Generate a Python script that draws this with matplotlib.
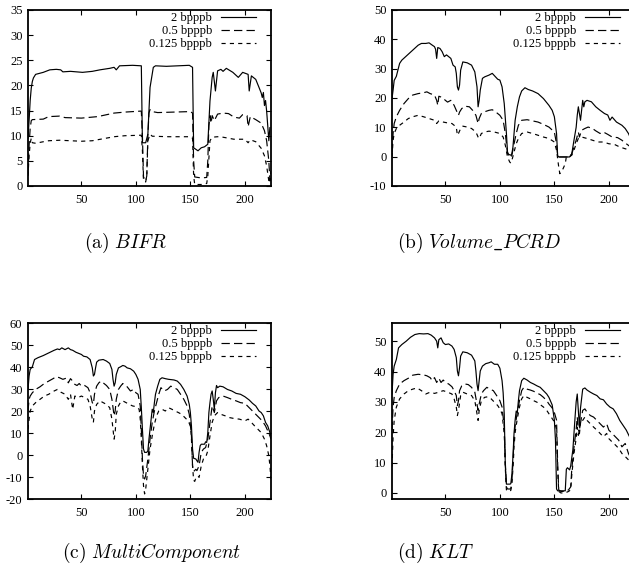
import numpy as np
import matplotlib
matplotlib.use("Agg")
import matplotlib.pyplot as plt

# ---------------- data: (band, value) ----------------#

# (a) BIFR
bifr_2 = [(1,9.5),(2,13),(3,17),(4,19.5),(5,20.8),(6,21.5),(8,22.2),(15,22.6),(21,23.1),(27,23.2),
          (31,23.1),(33,22.7),(40,22.8),(51,22.6),(60,22.8),(67,23.1),(76,23.4),(80,23.6),(82,23.1),
          (85,23.9),(97,24.0),(105,23.9),(106,8.6),(109,8.6),(111,10.3),(113,19.6),(116,23.6),(118,23.9),
          (128,23.8),(149,24.0),(152,23.6),(153,7.6),(157,7.0),(160,7.6),(163,7.8),(166,8.3),(168,16.9),
          (170,21.6),(171,22.6),(173,18.9),(175,22.9),(178,23.2),(180,22.8),(183,23.4),(189,22.6),
          (194,21.6),(198,22.6),(203,22.2),(204,18.9),(206,21.9),(210,21.2),(213,19.6),(215,18.5),
          (216,17.6),(217,18.6),(218,16),(219,17),(220,14.9),(221,12),(222,9),(223,11.6)]
bifr_05 = [(1,2.3),(2,8),(3,11.5),(4,13),(5,13.2),(15,13.3),(20,13.8),(30,13.9),(35,13.6),(50,13.5),
           (65,13.8),(80,14.5),(90,14.7),(105,14.9),(106,10),(107,1.8),(109,1.0),(110,2),(111,10),
           (112,14.5),(113,15.2),(115,14.8),(120,14.6),(150,14.8),(152,14.5),(153,5),(154,1.8),(160,1.6),
           (165,1.7),(166,5),(167,12),(168,14),(169,12.5),(170,14.0),(172,13),(175,14.3),(180,14.5),
           (185,14.4),(190,13.7),(195,13.5),(198,14.2),(202,14.0),(203,11.8),(205,13.8),(210,13.2),
           (215,12.5),(218,11),(220,9),(222,5),(223,1),(224,3)]
bifr_0125 = [(1,2),(2,6),(3,8.5),(4,9.5),(5,8.6),(8,8.5),(15,8.8),(20,9.0),(30,9.1),(50,8.9),(60,9.0),
             (70,9.4),(80,9.8),(90,10.0),(105,10.1),(106,7),(107,1),(109,0.8),(110,2),(111,9),(113,10.3),
             (115,9.9),(130,9.8),(150,9.8),(152,9.5),(153,2),(154,0.3),(160,0.3),(165,0.5),(166,2),
             (168,9),(170,9.7),(175,9.8),(180,9.7),(190,9.3),(200,9.3),(203,8.6),(205,9.2),(210,8.8),
             (215,7.5),(218,6),(220,4),(222,1),(223,0.2)]

# (b) Volume_PCRD
pcrd_2 = [(1,19.8),(2,22.7),(3,26),(5,27.4),(6,28.9),(8,31.8),(10,32.9),(15,34.6),(20,36.3),(25,38),
          (28,38.6),(32,38.6),(35,38.8),(38,38.0),(40,37.5),(41,36.6),(42,33.5),(43,37.2),(45,36.9),
          (47,35.8),(49,34.1),(51,34.7),(55,33.5),(57,31.2),(59,30.6),(60,28.4),(61,23.8),(62,22.7),
          (63,24.4),(64,29.5),(66,32.3),(70,32),(74,31.2),(77,28.9),(79,23.8),(80,17),(81,19.2),(82,22.7),
          (84,26.7),(86,27.2),(90,27.8),(93,28.4),(96,27.2),(98,26.4),(100,26.1),(102,23.8),(104,18.1),
          (106,7.9),(107,1.6),(108,0.8),(110,0.5),(111,1.0),(112,3.3),(114,12.4),(116,17),(118,20.4),
          (120,22.4),(123,23.5),(126,22.9),(130,22.4),(135,21.5),(140,19.8),(145,17.5),(148,15.8),
          (150,13.6),(152,7.9),(153,0.4),(154,-0.1),(158,-0.1),(164,-0.1),(166,1),(168,5.6),(170,10),
          (171,14.1),(172,17),(173,14.7),(174,12.4),(175,15.8),(176,19.2),(177,17),(178,18.7),(180,19.2),
          (184,18.7),(188,17),(192,15.8),(196,14.7),(199,14.2),(201,12.4),(203,13.5),(207,11.8),
          (212,10.7),(215,9.6),(218,7.9),(220,6.2),(221,8.4),(223,5.5),(224,6)]
pcrd_05 = [(1,1.6),(2,7.9),(3,11.3),(5,13.6),(8,15.8),(12,18.1),(16,19.8),(20,21),(25,21.5),(30,21.8),
           (33,22.1),(36,21.5),(40,21),(42,19.2),(43,17.5),(44,20.6),(47,20.2),(50,19.2),(52,18.6),
           (55,19.2),(58,17.5),(60,15.8),(62,14.1),(63,15.2),(65,16.4),(68,17.2),(72,17),(75,15.8),
           (78,14.1),(80,11.3),(81,13),(83,14.7),(86,15.3),(90,15.8),(93,16),(96,15.3),(100,14.1),
           (103,12.4),(105,7.9),(107,1),(109,0),(110,-0.3),(111,0.5),(113,4.4),(115,7.9),(117,10.7),
           (120,12.4),(125,12.6),(130,12.2),(135,11.8),(140,11),(145,10.1),(150,8.4),(152,4.4),(153,0.4),
           (154,-0.1),(164,-0.1),(166,1),(168,3.3),(170,5.6),(172,8.4),(173,6.7),(175,9),(178,9.6),
           (181,10.1),(185,9.6),(188,8.8),(192,7.9),(195,8.4),(199,7.6),(203,6.7),(208,6.5),(212,5.6),
           (216,4.4),(220,3.3),(222,5),(224,4)]
pcrd_0125 = [(1,0),(2,5.6),(3,7.9),(5,9.6),(8,10.7),(12,11.8),(16,13),(20,13.6),(25,14.1),(30,13.6),
             (35,13),(40,12.4),(42,11.3),(44,12.2),(48,11.8),(52,11.5),(56,11.3),(60,10.1),(61,7.3),
             (62,7.9),(64,9.6),(66,10.4),(70,10.1),(74,9.6),(78,8.4),(80,6.7),(81,6.2),(83,7.9),(86,8.4),
             (90,8.7),(95,8.4),(100,7.9),(103,6.7),(105,3.9),(107,-0.1),(109,-1.8),(110,-2.2),(111,-1.3),
             (113,1.6),(115,4.4),(117,6.2),(120,7.9),(125,8.4),(130,7.9),(135,7.3),(140,6.7),(145,6.2),
             (150,5),(152,2.2),(154,-3.5),(155,-5.8),(156,-5.2),(158,-4.1),(160,-2.4),(161,0),(164,0),
             (166,0.5),(168,2.2),(170,4.4),(172,6.2),(175,6.7),(180,6.2),(185,5.6),(190,5),(195,5),
             (200,4.4),(205,4.2),(210,3.3),(215,2.7),(220,2.2),(222,2.4),(224,2)]

# (c) MultiComponent
mc_2 = [(1,29.8),(2,35.9),(3,38.9),(5,40.1),(7,43.4),(10,44.2),(15,45.2),(20,46.4),(25,47.6),(28,48.2),
        (30,47.9),(32,48.7),(35,47.9),(38,48.7),(40,47.9),(42,47.6),(45,46.7),(48,46.1),(50,45.7),
        (52,44.9),(55,44.6),(58,43.4),(60,39.6),(61,35.9),(62,36.6),(63,39.6),(64,42.2),(66,43.1),
        (70,43.4),(73,42.7),(76,41.6),(78,38.9),(79,34.4),(80,31.3),(81,32.8),(82,36.6),(84,39.6),
        (86,40.1),(88,40.7),(90,40.4),(92,39.6),(95,39.2),(98,38.1),(100,36.6),(102,34.4),(104,29.8),
        (105,21.5),(106,11.7),(107,2.7),(108,1.2),(110,1.2),(111,1.9),(112,7.2),(114,16.3),(115,20.8),
        (116,19.3),(117,23.8),(118,27.6),(120,31.3),(122,34.4),(124,35.1),(127,34.7),(130,34.4),
        (135,34.1),(138,33.6),(141,32.1),(144,29.8),(147,26.8),(149,23),(150,19.3),(151,13.2),(152,2.7),
        (153,-1.5),(155,-1.8),(156,-2.6),(157,-3.3),(158,1.2),(159,4.2),(160,4.9),(163,4.9),(164,6),
        (165,5.7),(166,10.2),(167,19.3),(168,23.8),(169,27.6),(170,29.1),(171,25.3),(172,20.8),
        (173,28.3),(174,31.6),(175,30.6),(177,31.3),(180,31),(184,29.8),(188,29.1),(192,28),(196,27.6),
        (200,26.5),(204,25),(207,23.5),(210,22.3),(213,20),(215,19.3),(217,17.8),(219,14.8),(221,13.2),
        (223,10.2),(224,8.7)]
mc_05 = [(1,20),(2,25.3),(3,26.8),(5,28.3),(8,29.8),(12,31),(16,32.5),(20,33.6),(24,34.7),(27,35.6),
         (30,35.1),(33,34.4),(36,34.9),(38,32.8),(40,34.7),(42,33.6),(44,32.1),(46,31.6),(48,32.5),
         (50,31.3),(53,31.6),(56,30.6),(58,28.3),(60,23.8),(61,23.1),(62,27.6),(64,31.3),(66,32.8),
         (68,33.6),(70,32.8),(73,31.6),(76,29.8),(78,25.3),(80,17.8),(81,20),(82,25.3),(84,29.8),
         (86,31.3),(88,32.5),(90,31.6),(92,31),(95,29.1),(98,29.8),(100,28.3),(102,27.6),(104,22.3),
         (105,11.7),(106,-1.8),(107,-9.4),(108,-10.9),(109,-9.4),(110,-5.6),(111,-1.8),(113,7.2),
         (115,14.8),(117,20),(119,23.8),(121,27.6),(123,30.6),(126,29.1),(129,29.8),(132,31.3),
         (135,30.6),(138,29.8),(141,27.6),(144,25.3),(147,22.3),(149,18.5),(151,8.7),(152,-4.9),
         (153,-7.5),(155,-6.5),(156,-7.1),(158,-4.9),(160,1.2),(162,2.7),(164,3.4),(166,7.2),(168,14.8),
         (170,22.3),(172,19.3),(174,24.6),(176,26.1),(180,26.8),(184,26.1),(188,25.3),(192,24.6),
         (196,23.8),(200,23.5),(204,21.5),(207,20),(210,18.5),(213,17),(216,15.5),(219,13.2),(221,11),
         (223,8.7),(224,7.2)]
mc_0125 = [(1,11.7),(2,16.3),(3,20),(5,22.3),(8,23.8),(12,25.3),(16,26.8),(20,27.6),(25,29.1),(28,29.8),
           (31,28.6),(35,27.6),(38,25.3),(40,27.6),(42,20.8),(44,26.8),(47,26.1),(50,26.8),(53,26.1),
           (56,25.3),(58,22.3),(60,16.3),(61,14.8),(62,20),(64,23),(67,24.6),(70,23.8),(73,23),(76,21.5),
           (78,16.3),(80,7.2),(81,10.2),(82,18.5),(84,22.3),(86,24.1),(88,24.6),(91,23.8),(94,23),
           (97,22.3),(100,22),(103,20.8),(104,16.3),(105,7.2),(106,-4.9),(107,-13.9),(108,-17.7),
           (109,-15.5),(110,-10.9),(111,-6.4),(113,2.7),(115,8.7),(117,14),(119,17.8),(121,20),(124,20.8),
           (127,20),(130,21.5),(133,20.8),(136,20),(139,19.3),(142,18.5),(145,17),(148,15.5),(150,13.2),
           (151,7.2),(152,-4.9),(153,-11.5),(154,-12),(155,-10.5),(157,-9.5),(158,-10.2),(160,-4.9),
           (162,-1.8),(164,-1.1),(166,1.9),(168,8.7),(170,14.8),(172,17.8),(175,19.3),(178,18.5),
           (182,17.8),(186,17),(190,16.6),(195,16.3),(200,15.5),(203,16.3),(206,14.8),(209,13.2),
           (212,11.7),(215,10.2),(218,7.2),(220,4.2),(222,-0.3),(223,-4.9),(224,-10.9)]

# (d) KLT
klt_2 = [(1,32.6),(2,39.1),(3,41.8),(5,44),(7,47.8),(10,48.9),(14,50),(18,51.3),(22,52.2),(26,52.5),
         (30,52.4),(34,52.5),(37,52),(40,51.1),(42,50),(43,47.8),(44,50.5),(46,51.1),(48,49.5),(50,48.9),
         (53,49.1),(56,48.4),(58,47.3),(60,44.6),(61,40.2),(62,38.6),(63,41.3),(64,45.1),(66,46.5),
         (70,46.2),(74,45.4),(77,43.5),(78,40.2),(79,35.9),(80,33.7),(81,37),(82,40.2),(84,41.8),
         (87,42.6),(90,42.9),(92,43.2),(95,42.4),(98,42.4),(100,41.1),(102,37),(103,33),(104,26),
         (105,8.9),(106,2.9),(109,2.9),(110,3),(111,6),(112,12),(113,19.7),(114,24),(115,27),(116,26.5),
         (117,30.4),(118,33.7),(120,37),(122,37.8),(125,37.2),(128,36.4),(131,35.9),(134,35.3),
         (137,34.8),(140,33.7),(143,32.6),(145,31.5),(148,29),(150,24),(151,17.5),(152,1.3),(153,0.7),
         (160,0.7),(161,7.8),(162,8.3),(164,7.6),(165,8.9),(167,14.3),(169,25),(170,30),(171,32.6),
         (173,21.7),(174,28),(176,34.2),(178,34.6),(180,33.9),(183,33.2),(186,32.6),(189,32.1),(192,31),
         (195,30.7),(198,29.3),(201,28.3),(204,27.7),(207,26.1),(210,23.9),(213,22.3),(216,20.7),
         (219,18.5),(221,15.2),(223,10.9),(224,12)]
klt_05 = [(1,20.7),(2,28.3),(3,31.5),(5,33.7),(8,35.9),(12,37),(16,37.8),(20,38.8),(25,39.1),(30,38.9),
          (33,38.6),(36,38),(38,37),(40,38),(42,36.4),(44,37.8),(46,36.4),(48,37.2),(50,36.4),(53,35.9),
          (56,35),(58,33.7),(60,32.1),(61,28.8),(62,30.4),(63,33.7),(65,35.3),(68,35.9),(71,35.7),
          (74,34.8),(77,33.2),(79,29.3),(80,27.2),(81,29.3),(83,32.6),(85,33.7),(88,34.8),(91,34.2),
          (94,33.7),(97,32.1),(100,30.4),(102,28.3),(104,21.7),(105,10),(106,2),(107,1.3),(110,1.3),
          (111,4),(112,10),(113,18),(114,22),(116,26.6),(118,30.4),(120,33.7),(122,34.8),(125,34.2),
          (128,33.9),(131,33.5),(134,32.9),(137,32.4),(140,31.5),(143,30.4),(145,29.3),(148,28),
          (150,26.5),(152,24),(153,10),(154,1),(156,0.5),(160,0.5),(163,1),(165,2),(166,8),(168,15),
          (170,21),(171,25),(172,21),(173,19.5),(174,23),(176,27.2),(178,27.7),(180,26.6),(183,25.5),
          (186,25),(189,23.9),(192,22.8),(195,21.7),(198,22.8),(200,20.7),(203,19.6),(206,18.5),
          (209,17.4),(212,15.2),(215,16.3),(218,13),(221,10.9),(223,8.7),(224,10)]
klt_0125 = [(1,8.7),(2,18.5),(3,23.9),(5,28.3),(8,31),(12,32.6),(16,33.7),(20,34.2),(24,34.6),(28,33.7),
            (32,32.6),(36,33.2),(40,32.8),(44,33.2),(48,33.7),(52,33.2),(56,32.6),(58,31),(60,28.3),
            (61,25.5),(62,27.2),(64,32.1),(66,33.2),(70,32.6),(74,32.1),(77,30.4),(79,26.1),(80,23.9),
            (81,27.2),(83,30.4),(86,31.5),(89,31.7),(92,31),(95,29.9),(98,28.8),(100,27.7),(102,26.1),
            (104,19.6),(105,8),(106,1),(107,0.5),(110,0.8),(111,3),(112,8),(113,15),(114,20),(116,24.5),
            (118,28.3),(120,31),(122,32.1),(125,31.5),(128,31),(131,30.4),(134,29.9),(137,29.1),
            (140,28.3),(143,27.2),(145,26.1),(148,24.5),(150,23.4),(152,21),(153,8),(154,0.5),(156,0),
            (160,0),(163,0.5),(165,1),(166,6),(168,13),(170,18),(171,21.7),(172,19),(174,22.8),(176,23.9),
            (178,25),(180,23.9),(183,22.8),(186,21.7),(189,20.7),(192,19.6),(195,18.5),(198,19.6),
            (200,17.9),(203,16.8),(206,15.8),(209,14.7),(212,13),(215,12),(218,10.9),(221,9.2),(223,7.6),
            (224,9)]

labels = ["2 bpppb", "0.5 bpppb", "0.125 bpppb"]
captions = [r"$\mathrm{(a)}\ BIFR$", r"$\mathrm{(b)}\ Volume\_PCRD$",
            r"$\mathrm{(c)}\ MultiComponent$", r"$\mathrm{(d)}\ KLT$"]
panel_series = [(bifr_2, bifr_05, bifr_0125), (pcrd_2, pcrd_05, pcrd_0125),
                (mc_2, mc_05, mc_0125), (klt_2, klt_05, klt_0125)]
ylims = [(0, 35), (-10, 50), (-20, 60), (-2, 56)]
yticks = [np.arange(0, 36, 5), np.arange(-10, 51, 10), np.arange(-20, 61, 10), np.arange(0, 51, 10)]
xticks = [50, 100, 150, 200]

# ------------------------------- plotting ------------------------------------#

plt.rcParams["font.family"] = ["Liberation Serif", "DejaVu Serif"]
plt.rcParams["mathtext.fontset"] = "cm"
plt.rcParams["lines.scale_dashes"] = False
plt.rcParams["axes.unicode_minus"] = False

W, H = 629, 575
fig = plt.figure(figsize=(W / 100, H / 100), dpi=100)

# axes boxes in pixels: left, top, width, height
boxes = [(28, 10, 243, 176), (392, 10, 243, 176), (28, 323, 243, 176), (392, 323, 243, 176)]
cap_pos = [(84, 243), (397, 243), (62, 553), (397, 553)]
styles = [dict(linestyle="-"), dict(dashes=(6, 3)), dict(dashes=(3, 3))]

for i, (l, t, w, h) in enumerate(boxes):
    ax = fig.add_axes([l / W, 1 - (t + h) / H, w / W, h / H])
    for data, lab, st in zip(panel_series[i], labels, styles):
        xy = np.array(data, dtype=float)
        ax.plot(xy[:, 0], xy[:, 1], color="black", lw=0.85, label=lab, **st)
    ax.set_xlim(1, 224)
    ax.set_ylim(*ylims[i])
    ax.set_xticks(xticks)
    ax.set_yticks(yticks[i])
    ax.tick_params(direction="in", top=True, right=True, length=3.5, width=0.8,
                   labelsize=9, colors="black")
    ax.tick_params(axis="x", pad=6)
    ax.tick_params(axis="y", pad=4)
    for sp in ax.spines.values():
        sp.set_linewidth(1.3)
    ax.legend(loc="upper right", bbox_to_anchor=(1 - 15 / w, 1 - 2 / h), frameon=False,
              markerfirst=False, handlelength=2.8, handletextpad=0.7, labelspacing=0.08,
              borderpad=0, borderaxespad=0, fontsize=9)
    cx, cy = cap_pos[i]
    fig.text(cx / W, 1 - cy / H, captions[i], ha="left", va="center", fontsize=14)

fig.savefig("out.png", dpi=100)
